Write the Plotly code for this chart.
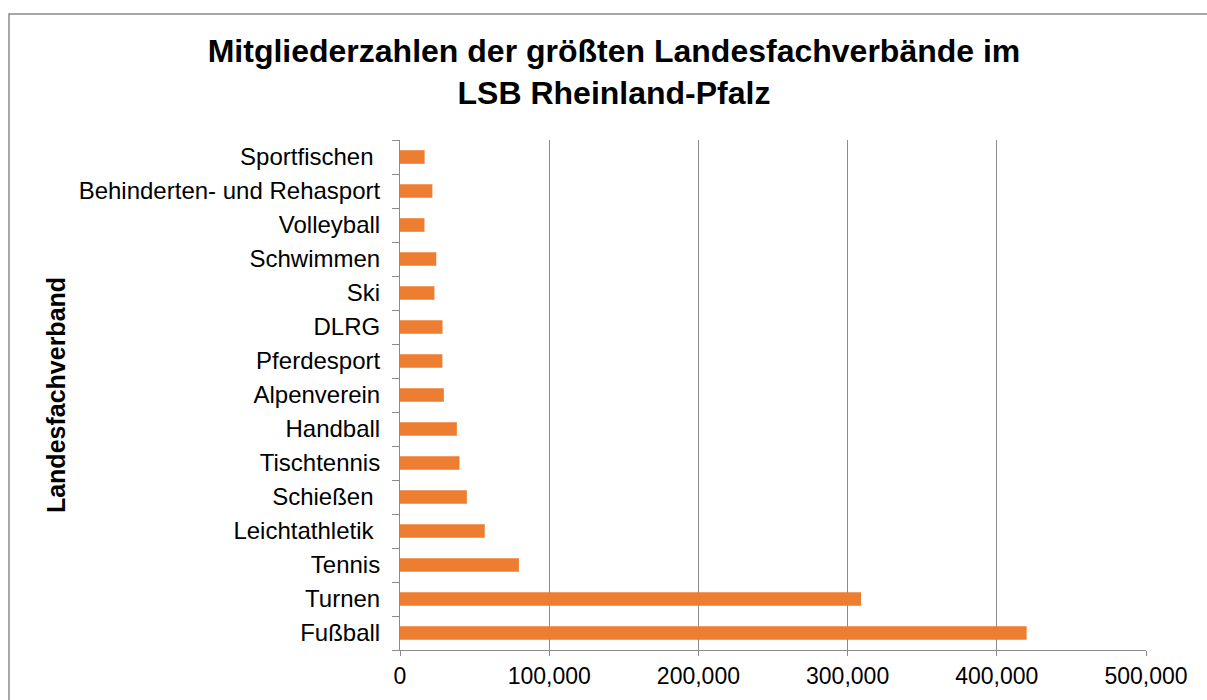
import plotly.graph_objects as go

categories = [
    "Fußball", "Turnen", "Tennis", "Leichtathletik\u00a0", "Schießen\u00a0",
    "Tischtennis", "Handball", "Alpenverein", "Pferdesport", "DLRG",
    "Ski", "Schwimmen", "Volleyball", "Behinderten- und Rehasport", "Sportfischen\u00a0",
]
members = [
    420000, 309000, 79700, 56800, 44800,
    39900, 38100, 29400, 28400, 28500,
    23100, 24300, 16400, 21700, 16500,
]
x_tick_values = [0, 100000, 200000, 300000, 400000, 500000]

title_text = "Mitgliederzahlen der größten Landesfachverbände im<br>LSB Rheinland-Pfalz"
y_title = "Landesfachverband"

FONT = "Liberation Sans, Arial, sans-serif"
GRID = "#8c8c8c"

fig = go.Figure(
    go.Bar(
        x=members,
        y=categories,
        orientation="h",
        marker=dict(color="#ED7D31", line=dict(width=0)),
    )
)

W, H = 1207, 700
L, R, T, B = 400, 61, 140, 50
pw, ph = W - L - R, H - T - B

def px_to_paper_x(px):
    return (px - L) / pw

def px_to_paper_y(py):
    return (H - B - py) / ph

fig.update_layout(
    width=W,
    height=H,
    margin=dict(l=L, r=R, t=T, b=B),
    paper_bgcolor="white",
    plot_bgcolor="white",
    bargap=0.6,
    showlegend=False,
    font=dict(family=FONT, color="#000000"),
    title=dict(
        text=title_text,
        font=dict(family=FONT, size=32, color="#000000", weight="bold"),
        x=614 / W,
        xanchor="center",
        xref="container",
        y=1 - 62 / H,
        yanchor="top",
        yref="container",
    ),
    shapes=[
        dict(
            type="rect",
            xref="paper",
            yref="paper",
            x0=px_to_paper_x(9),
            x1=px_to_paper_x(1230),
            y0=px_to_paper_y(730),
            y1=px_to_paper_y(14),
            line=dict(color="#8a8a8a", width=1.5),
            fillcolor="rgba(0,0,0,0)",
            layer="below",
        )
    ],
)

fig.update_xaxes(
    range=[0, 500000],
    tickvals=x_tick_values,
    tickformat=",",
    showgrid=True,
    gridcolor=GRID,
    gridwidth=1,
    showline=True,
    linecolor=GRID,
    linewidth=1,
    ticks="outside",
    ticklen=5,
    tickcolor=GRID,
    zeroline=False,
    tickfont=dict(family=FONT, size=23, color="#000000"),
    fixedrange=True,
)

fig.update_yaxes(
    type="category",
    categoryorder="array",
    categoryarray=categories,
    showgrid=False,
    showline=True,
    linecolor=GRID,
    linewidth=1,
    ticks="outside",
    tickson="boundaries",
    ticklen=7,
    tickcolor=GRID,
    ticklabelstandoff=14,
    tickfont=dict(family=FONT, size=24, color="#000000"),
    title=dict(
        text=y_title,
        font=dict(family=FONT, size=25, color="#000000", weight="bold"),
        standoff=5,
    ),
    automargin=False,
    fixedrange=True,
)

fig.write_html(
    "out.html",
    config={"displayModeBar": False},
    post_script="document.body.style.margin='0';",
)
